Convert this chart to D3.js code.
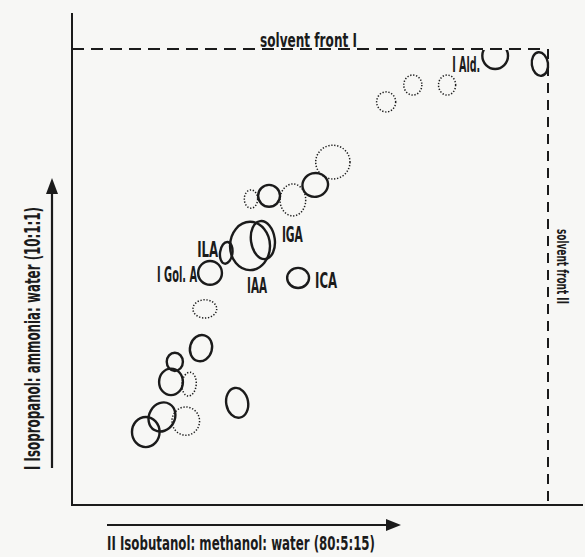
<!DOCTYPE html>
<html>
<head>
<meta charset="utf-8">
<script src="https://cdn.jsdelivr.net/npm/d3@7"></script>
<style>
  html, body { margin: 0; padding: 0; background: #f7f7f5; }
  svg { display: block; }
  .lbl { font-family: "Liberation Sans Narrow", "DejaVu Sans Condensed", "Arial Narrow", sans-serif; font-weight: bold; fill: #1b1b1b; }
</style>
</head>
<body>
<svg id="chart" width="585" height="557"></svg>
<script>
// Two-dimensional paper chromatogram of indole compounds.
// Solvent I runs upward (Rf I), solvent II runs to the right (Rf II).

const spotNames = ["", "", "", "I Ald.", "", "", "", "", "", "", "IGA", "IAA", "ILA", "I Gol. A", "ICA", "", "", "", "", "", "", "", "", ""];
const spotRfII  = [0.660, 0.716, 0.788, 0.889, 0.983, 0.376, 0.414, 0.464, 0.511, 0.548, 0.401, 0.374, 0.324, 0.290, 0.475, 0.279, 0.271, 0.216, 0.208, 0.246, 0.347, 0.189, 0.155, 0.239];
const spotRfI   = [0.884, 0.921, 0.921, 0.985, 0.967, 0.671, 0.678, 0.669, 0.702, 0.752, 0.581, 0.568, 0.553, 0.509, 0.498, 0.430, 0.344, 0.314, 0.270, 0.265, 0.224, 0.193, 0.160, 0.184];
// half-width (Rf II units) and half-height (Rf I units) of each spot
const spotHalfW = [0.020, 0.019, 0.018, 0.027, 0.017, 0.014, 0.023, 0.027, 0.027, 0.036, 0.025, 0.042, 0.013, 0.025, 0.023, 0.025, 0.023, 0.017, 0.025, 0.015, 0.023, 0.027, 0.029, 0.029];
const spotHalfH = [0.022, 0.022, 0.022, 0.029, 0.026, 0.020, 0.024, 0.035, 0.026, 0.037, 0.042, 0.053, 0.024, 0.026, 0.022, 0.020, 0.029, 0.020, 0.029, 0.026, 0.033, 0.033, 0.033, 0.031];
const spotTilt  = [0, 0, 0, 0, -8, 0, 0, 0, -15, 0, -8, 0, 8, 0, 0, 0, 15, 0, 0, 5, -10, 30, 0, 0];
// "strong": clearly visible spot, "faint": weak spot
const spotKind  = ["faint", "faint", "faint", "strong", "strong", "faint", "strong", "faint", "strong", "faint", "strong", "strong", "strong", "strong", "strong", "faint", "strong", "strong", "strong", "faint", "strong", "strong", "strong", "faint"];

const axisTitleI   = "I  Isopropanol: ammonia: water  (10:1:1)";
const axisTitleII  = "II  Isobutanol: methanol: water  (80:5:15)";
const frontLabelI  = "solvent front I";
const frontLabelII = "solvent front II";

const spots = spotNames.map((name, i) => ({
  name, rf2: spotRfII[i], rf1: spotRfI[i], hw: spotHalfW[i], hh: spotHalfH[i],
  tilt: spotTilt[i], kind: spotKind[i]
}));

const svg = d3.select("#chart");
const ink = "#1b1b1b";

const x = d3.scaleLinear().domain([0, 1]).range([72, 548]);
const y = d3.scaleLinear().domain([0, 1]).range([505, 49]);

// paper frame: origin edge lines
svg.append("line").attr("x1", x(0)).attr("x2", x(0)).attr("y1", 13).attr("y2", y(0))
  .attr("stroke", ink).attr("stroke-width", 2);
svg.append("line").attr("x1", x(0) - 1).attr("x2", 583).attr("y1", y(0)).attr("y2", y(0))
  .attr("stroke", ink).attr("stroke-width", 2);

// solvent fronts
svg.append("line").attr("x1", x(0)).attr("x2", x(1) - 4).attr("y1", y(1)).attr("y2", y(1))
  .attr("stroke", ink).attr("stroke-width", 2).attr("stroke-dasharray", "12 7");
svg.append("line").attr("x1", x(1)).attr("x2", x(1)).attr("y1", y(1)).attr("y2", y(0))
  .attr("stroke", ink).attr("stroke-width", 2).attr("stroke-dasharray", "10 7");

// spots are clipped at solvent front I
svg.append("clipPath").attr("id", "paper")
  .append("rect").attr("x", 0).attr("y", y(1) + 1).attr("width", 585).attr("height", 557);

const g = svg.append("g").attr("clip-path", "url(#paper)");
g.selectAll("ellipse.spot").data(spots).join("ellipse")
  .attr("class", "spot")
  .attr("transform", d => `translate(${x(d.rf2)},${y(d.rf1)}) rotate(${d.tilt})`)
  .attr("rx", d => x(d.hw) - x(0))
  .attr("ry", d => y(0) - y(d.hh))
  .attr("fill", "none")
  .attr("stroke", ink)
  .attr("stroke-width", d => d.kind === "strong" ? 2.4 : 1.5)
  .attr("stroke-dasharray", d => d.kind === "strong" ? null : "1.3 1.7");

// spot labels, placed relative to their spot
const place = {
  "I Ald.":   { dx: -15, dy: 16, anchor: "end",    len: 28 },
  "IGA":      { dx: 19,  dy: 2,  anchor: "start",  len: 21 },
  "IAA":      { dx: 7,   dy: 47, anchor: "middle", len: 20 },
  "ILA":      { dx: -8,  dy: 4,  anchor: "end",    len: 21 },
  "I Gol. A": { dx: -13, dy: 9,  anchor: "end",    len: 40 },
  "ICA":      { dx: 17,  dy: 10, anchor: "start",  len: 22 }
};
svg.selectAll("text.spotlabel").data(spots.filter(d => d.name)).join("text")
  .attr("class", "spotlabel lbl")
  .attr("x", d => x(d.rf2) + place[d.name].dx)
  .attr("y", d => y(d.rf1) + place[d.name].dy)
  .attr("text-anchor", d => place[d.name].anchor)
  .attr("font-size", 22)
  .attr("textLength", d => place[d.name].len)
  .attr("lengthAdjust", "spacingAndGlyphs")
  .text(d => d.name);

// solvent front labels
svg.append("text").attr("class", "lbl").attr("x", 260).attr("y", 47)
  .attr("font-size", 20).attr("textLength", 97).attr("lengthAdjust", "spacingAndGlyphs")
  .text(frontLabelI);

svg.append("text").attr("class", "lbl")
  .attr("transform", "translate(557,229) rotate(90)")
  .attr("font-size", 15).attr("textLength", 75).attr("lengthAdjust", "spacingAndGlyphs")
  .text(frontLabelII);

// direction arrows
svg.append("line").attr("x1", 52).attr("x2", 52).attr("y1", 468).attr("y2", 190)
  .attr("stroke", ink).attr("stroke-width", 2.2);
svg.append("path").attr("d", "M52,178 L46,194 L58,194 Z").attr("fill", ink);
svg.append("line").attr("x1", 107).attr("x2", 388).attr("y1", 525).attr("y2", 525)
  .attr("stroke", ink).attr("stroke-width", 2.2);
svg.append("path").attr("d", "M401,525 L386,519 L386,531 Z").attr("fill", ink);

// axis titles
svg.append("text").attr("class", "lbl")
  .attr("transform", "translate(40,470) rotate(-90)")
  .attr("font-size", 21).attr("textLength", 263).attr("lengthAdjust", "spacingAndGlyphs")
  .text(axisTitleI);

svg.append("text").attr("class", "lbl").attr("x", 107).attr("y", 550)
  .attr("font-size", 19).attr("textLength", 268).attr("lengthAdjust", "spacingAndGlyphs")
  .text(axisTitleII);
</script>
</body>
</html>
